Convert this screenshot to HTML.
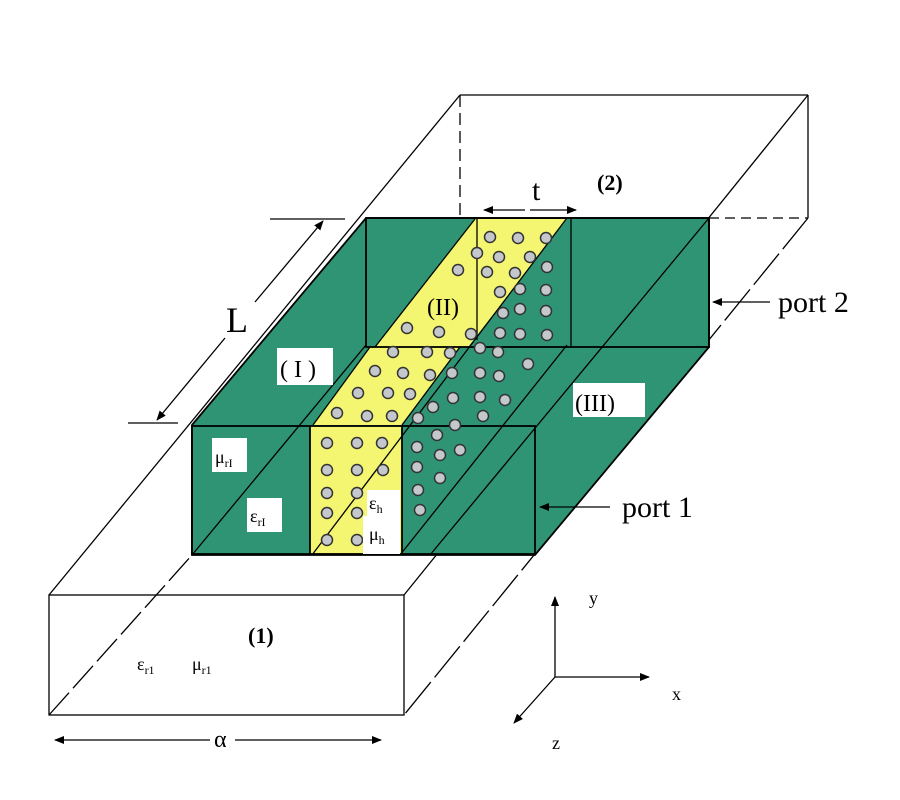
<!DOCTYPE html>
<html><head><meta charset="utf-8"><style>
html,body{margin:0;padding:0;background:#fff;}
svg{display:block;}
text{font-family:"Liberation Serif",serif;fill:#000;}
</style></head><body>
<svg width="900" height="800" viewBox="0 0 900 800" xmlns="http://www.w3.org/2000/svg">
<defs>
<marker id="ah" markerWidth="10" markerHeight="8" refX="9" refY="4" orient="auto" markerUnits="userSpaceOnUse"><path d="M0,0 L10,4 L0,8 Z" fill="#000"/></marker>
</defs>
<g stroke="#000" stroke-width="1.3" fill="none">
<rect x="49" y="595" width="355" height="120" fill="#fff"/>
<line x1="460" y1="95" x2="808" y2="95"/>
<line x1="808" y1="95" x2="808" y2="218"/>
<line x1="460" y1="95" x2="460" y2="218" stroke-dasharray="12,6"/>
<line x1="709" y1="218" x2="808" y2="218" stroke-dasharray="10,6"/>
<line x1="460" y1="95" x2="49" y2="595"/>
<line x1="808" y1="95" x2="404" y2="595"/>
<line x1="808" y1="218" x2="404" y2="715" stroke-dasharray="40,6"/>
<line x1="49" y1="715" x2="192" y2="555" stroke-dasharray="30,6"/>
</g>
<polygon points="192,425 366,218 709,218 709,347 535,555 192,555" fill="#2e9474"/>
<polygon points="310,426 402,426 402,554 310,554" fill="#f4f570"/>
<polygon points="313,425 370,347 460,347 402,425" fill="#f4f570"/>
<polygon points="375,347 475,219 567,219 468,347" fill="#f4f570"/>
<g stroke="#000" stroke-width="1.3" fill="none">
<line x1="192" y1="555" x2="366" y2="345"/>
<line x1="312" y1="555" x2="567" y2="218"/>
<line x1="709" y1="218" x2="430" y2="555"/>
<line x1="567" y1="345" x2="400" y2="555"/>
<line x1="313" y1="425" x2="370" y2="347"/>
<line x1="402" y1="425" x2="460" y2="347"/>
<line x1="375" y1="347" x2="475" y2="219"/>
<line x1="477" y1="218" x2="477" y2="340"/>
<line x1="571" y1="218" x2="571" y2="347"/>
<polygon points="192,425 366,218 709,218 709,347 535,555 192,555" stroke-width="1.8"/>
<rect x="192" y="426" width="343" height="128" stroke-width="1.8"/>
<rect x="366" y="218" width="343" height="129" stroke-width="1.8"/>
<line x1="310" y1="426" x2="310" y2="554" stroke-width="1.8"/>
<line x1="402" y1="426" x2="402" y2="554" stroke-width="1.8"/>
</g>
<g fill="#c4c8cc" stroke="#333" stroke-width="1.5">
<circle cx="327" cy="443" r="5.5"/><circle cx="357" cy="443" r="5.5"/><circle cx="382" cy="443" r="5.5"/>
<circle cx="327" cy="470" r="5.5"/><circle cx="357" cy="470" r="5.5"/><circle cx="383" cy="470" r="5.5"/>
<circle cx="327" cy="493" r="5.5"/><circle cx="357" cy="493" r="5.5"/>
<circle cx="327" cy="513" r="5.5"/><circle cx="357" cy="513" r="5.5"/>
<circle cx="327" cy="540" r="5.5"/><circle cx="357" cy="540" r="5.5"/>
<circle cx="417" cy="447" r="5.5"/><circle cx="437" cy="435" r="5.5"/><circle cx="460" cy="450" r="5.5"/><circle cx="440" cy="455" r="5.5"/><circle cx="417" cy="467" r="5.5"/><circle cx="440" cy="478" r="5.5"/><circle cx="418" cy="490" r="5.5"/><circle cx="420" cy="510" r="5.5"/><circle cx="455" cy="425" r="5.5"/>
<circle cx="337" cy="413" r="5.5"/><circle cx="367" cy="416" r="5.5"/><circle cx="392" cy="416" r="5.5"/><circle cx="358" cy="393" r="5.5"/><circle cx="388" cy="393" r="5.5"/><circle cx="410" cy="394" r="5.5"/><circle cx="375" cy="371" r="5.5"/><circle cx="403" cy="373" r="5.5"/><circle cx="430" cy="375" r="5.5"/><circle cx="393" cy="352" r="5.5"/><circle cx="427" cy="352" r="5.5"/><circle cx="450" cy="353" r="5.5"/>
<circle cx="418" cy="418" r="5.5"/><circle cx="433" cy="407" r="5.5"/><circle cx="453" cy="398" r="5.5"/><circle cx="480" cy="397" r="5.5"/><circle cx="505" cy="400" r="5.5"/><circle cx="483" cy="416" r="5.5"/><circle cx="452" cy="373" r="5.5"/><circle cx="480" cy="373" r="5.5"/><circle cx="499" cy="376" r="5.5"/><circle cx="528" cy="364" r="5.5"/><circle cx="480" cy="348" r="5.5"/><circle cx="498" cy="352" r="5.5"/>
<circle cx="407" cy="328" r="5.5"/><circle cx="439" cy="332" r="5.5"/><circle cx="471" cy="334" r="5.5"/><circle cx="500" cy="333" r="5.5"/><circle cx="520" cy="334" r="5.5"/><circle cx="547" cy="335" r="5.5"/><circle cx="503" cy="313" r="5.5"/><circle cx="520" cy="309" r="5.5"/><circle cx="546" cy="311" r="5.5"/><circle cx="500" cy="292" r="5.5"/><circle cx="520" cy="289" r="5.5"/><circle cx="546" cy="290" r="5.5"/><circle cx="458" cy="270" r="5.5"/><circle cx="487" cy="272" r="5.5"/><circle cx="515" cy="273" r="5.5"/><circle cx="547" cy="267" r="5.5"/><circle cx="477" cy="253" r="5.5"/><circle cx="499" cy="257" r="5.5"/><circle cx="530" cy="257" r="5.5"/><circle cx="490" cy="237" r="5.5"/><circle cx="518" cy="238" r="5.5"/><circle cx="546" cy="238" r="5.5"/>
</g>
<g fill="#fff">
<rect x="277" y="348" width="56" height="37"/>
<rect x="573" y="383" width="72" height="34"/>
<rect x="212" y="438" width="35" height="34"/>
<rect x="247" y="498" width="35" height="34"/>
<rect x="367" y="490" width="33" height="26"/>
<rect x="363" y="516" width="37" height="38"/>
<rect x="710" y="290" width="6" height="22"/>
</g>
<text x="280" y="377" font-size="24">( I )</text>
<text x="575" y="411" font-size="24">(III)</text>
<text x="427" y="315" font-size="24" fill="#111">(II)</text>
<text x="215" y="463" font-size="18">μ<tspan font-size="12" dy="4">rI</tspan></text>
<text x="250" y="522" font-size="18">ε<tspan font-size="12" dy="4">rI</tspan></text>
<text x="369" y="509" font-size="18">ε<tspan font-size="12" dy="4">h</tspan></text>
<text x="369" y="540" font-size="18">μ<tspan font-size="12" dy="4">h</tspan></text>
<g stroke="#000" stroke-width="1.3">
<line x1="128" y1="423" x2="178" y2="423"/>
<line x1="270" y1="219" x2="345" y2="219"/>
<line x1="225" y1="338" x2="157" y2="420" marker-end="url(#ah)"/>
<line x1="255" y1="302" x2="323" y2="221" marker-end="url(#ah)"/>
<line x1="525" y1="210" x2="484" y2="210" marker-end="url(#ah)"/>
<line x1="530" y1="210" x2="576" y2="210" marker-end="url(#ah)"/>
<line x1="770" y1="302" x2="713" y2="302" marker-end="url(#ah)"/>
<line x1="610" y1="507" x2="540" y2="507" marker-end="url(#ah)"/>
<line x1="210" y1="740" x2="55" y2="740" marker-end="url(#ah)"/>
<line x1="235" y1="740" x2="381" y2="740" marker-end="url(#ah)"/>
<line x1="555" y1="677" x2="555" y2="597" marker-end="url(#ah)"/>
<line x1="555" y1="677" x2="649" y2="677" marker-end="url(#ah)"/>
<line x1="555" y1="677" x2="514" y2="723" marker-end="url(#ah)"/>
</g>
<text x="226" y="332" font-size="36">L</text>
<text x="532" y="200" font-size="30">t</text>
<text x="597" y="190" font-size="22" font-weight="bold">(2)</text>
<text x="778" y="312" font-size="30">port 2</text>
<text x="622" y="517" font-size="30">port 1</text>
<text x="248" y="643" font-size="22" font-weight="bold">(1)</text>
<text x="137" y="670" font-size="18">ε<tspan font-size="12" dy="4">r1</tspan></text>
<text x="192" y="670" font-size="18">μ<tspan font-size="12" dy="4">r1</tspan></text>
<text x="214" y="747" font-size="24">α</text>
<text x="589" y="604" font-size="18">y</text>
<text x="672" y="700" font-size="18">x</text>
<text x="552" y="749" font-size="18">z</text>
</svg>
</body></html>
